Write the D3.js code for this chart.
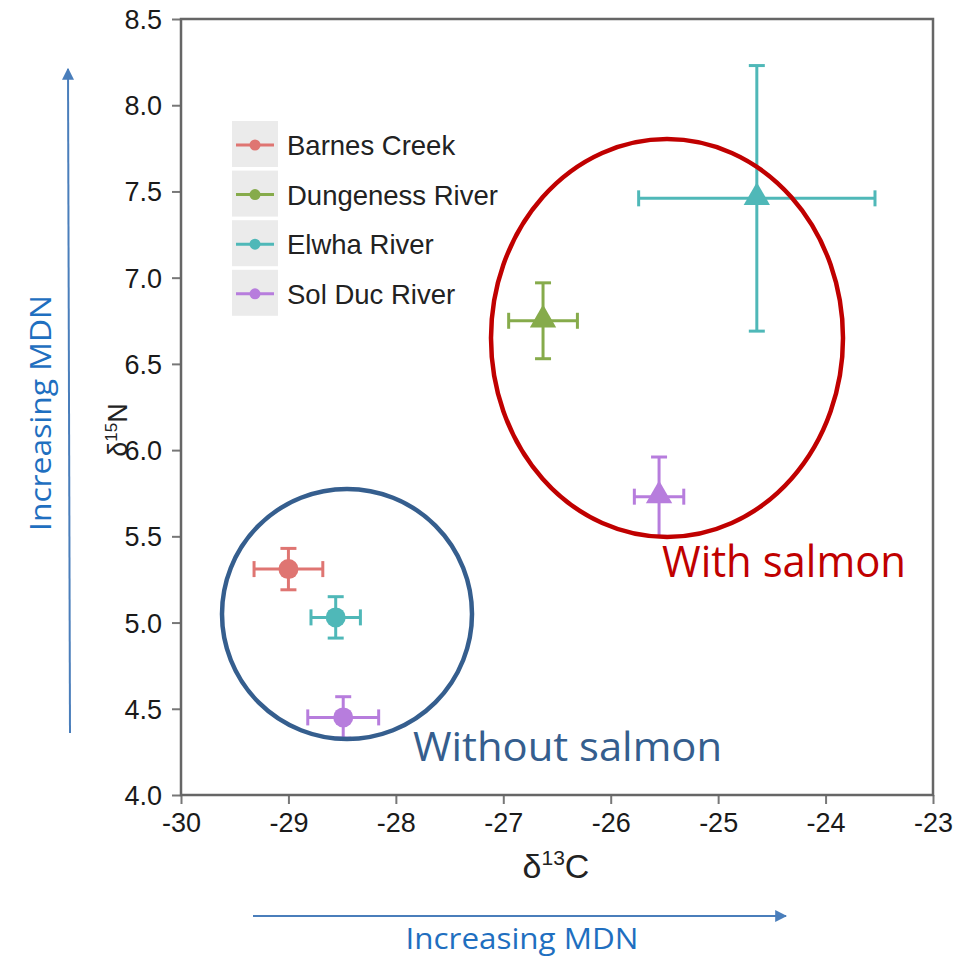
<!DOCTYPE html>
<html>
<head>
<meta charset="utf-8">
<script src="https://cdn.jsdelivr.net/npm/d3@7"></script>
<style>
  body { margin: 0; background: #fff; }
  svg text { font-family: "Liberation Sans", Arial, sans-serif; }
  svg text.note { font-family: "Open Sans", "Noto Sans", sans-serif; }
</style>
</head>
<body>
<div id="chart"></div>
<script>
// data
const sites = ['Barnes Creek', 'Dungeness River', 'Elwha River', 'Sol Duc River'];
const siteColors = ['#df7572', '#86ab4b', '#4fb8b8', '#b77ddd'];

// without salmon (circles)
const withoutSite = ['Barnes Creek', 'Elwha River', 'Sol Duc River'];
const withoutC = [-29.0, -28.56, -28.49];
const withoutCErr = [0.32, 0.23, 0.33];
const withoutN = [5.31, 5.03, 4.45];
const withoutNErr = [0.12, 0.12, 0.12];

// with salmon (triangles)
const withSite = ['Dungeness River', 'Elwha River', 'Sol Duc River'];
const withC = [-26.63, -24.64, -25.55];
const withCErr = [0.32, 1.1, 0.23];
const withN = [6.75, 7.46, 5.73];
const withNErr = [0.22, 0.77, 0.23];

const xTicks = [-30, -29, -28, -27, -26, -25, -24, -23];
const yTicks = [4.0, 4.5, 5.0, 5.5, 6.0, 6.5, 7.0, 7.5, 8.0, 8.5];

const width = 968;
const height = 958;

const svg = d3.select('#chart').append('svg')
  .attr('width', width)
  .attr('height', height);

const x = d3.scaleLinear().domain([-30, -23]).range([181, 933]);
const y = d3.scaleLinear().domain([4, 8.5]).range([795, 19]);
const color = d3.scaleOrdinal().domain(sites).range(siteColors);

// axes (hyphen minus like the original)
const xAxis = svg.append('g')
  .attr('transform', `translate(0,${y(4)})`)
  .call(d3.axisBottom(x).tickValues(xTicks).tickSize(9).tickPadding(5).tickFormat(d => `${d}`));
const yAxis = svg.append('g')
  .attr('transform', `translate(${x(-30)},0)`)
  .call(d3.axisLeft(y).tickValues(yTicks).tickSize(9).tickPadding(10).tickFormat(d => d.toFixed(1)));

[xAxis, yAxis].forEach((a) => {
  a.select('.domain').remove();
  a.selectAll('line').attr('stroke', '#777').attr('stroke-width', 2);
  a.selectAll('text').attr('font-size', 27).attr('fill', '#1a1a1a');
});
xAxis.selectAll('text').attr('dy', '0.85em');
yAxis.selectAll('text').attr('dy', '0.35em');

// frame
svg.append('rect')
  .attr('x', x(-30)).attr('y', y(8.5))
  .attr('width', x(-23) - x(-30)).attr('height', y(4) - y(8.5))
  .attr('fill', 'none').attr('stroke', '#666').attr('stroke-width', 2.5);

// axis titles
const xt = svg.append('text')
  .attr('x', 556).attr('y', 878)
  .attr('text-anchor', 'middle')
  .attr('font-size', 34).attr('fill', '#222');
xt.append('tspan').text('δ');
xt.append('tspan').attr('font-size', 21).attr('dy', -13).text('13');
xt.append('tspan').attr('dy', 13).text('C');

const yt = svg.append('text')
  .attr('transform', 'translate(127,430) rotate(-90)')
  .attr('text-anchor', 'middle')
  .attr('font-size', 27).attr('fill', '#222');
yt.append('tspan').text('δ');
yt.append('tspan').attr('font-size', 17).attr('dy', -10).text('15');
yt.append('tspan').attr('dy', 10).text('N');

// legend
const legend = svg.append('g').attr('transform', 'translate(232,121)');
sites.forEach((s, i) => {
  const row = legend.append('g').attr('transform', `translate(0,${i * 49.6})`);
  row.append('rect').attr('width', 46).attr('height', 46).attr('fill', '#ebebeb');
  row.append('line').attr('x1', 4).attr('x2', 42).attr('y1', 24).attr('y2', 24)
    .attr('stroke', color(s)).attr('stroke-width', 3);
  row.append('circle').attr('cx', 23).attr('cy', 24).attr('r', 5.5).attr('fill', color(s));
  row.append('text').attr('x', 55).attr('y', 34).attr('font-size', 27.5).attr('fill', '#222').text(s);
});

// error bars + markers
function drawGroup(siteList, cVals, cErr, nVals, nErr, shape) {
  siteList.forEach((s, i) => {
    const g = svg.append('g').attr('stroke', color(s)).attr('fill', color(s)).attr('stroke-width', 3);
    const cx = x(cVals[i]);
    const cy = y(nVals[i]);
    const x0 = x(cVals[i] - cErr[i]);
    const x1 = x(cVals[i] + cErr[i]);
    const y0 = y(nVals[i] - nErr[i]);
    const y1 = y(nVals[i] + nErr[i]);
    const cap = 8;
    g.append('line').attr('x1', x0).attr('x2', x1).attr('y1', cy).attr('y2', cy);
    g.append('line').attr('x1', x0).attr('x2', x0).attr('y1', cy - cap).attr('y2', cy + cap);
    g.append('line').attr('x1', x1).attr('x2', x1).attr('y1', cy - cap).attr('y2', cy + cap);
    g.append('line').attr('x1', cx).attr('x2', cx).attr('y1', y0).attr('y2', y1);
    g.append('line').attr('x1', cx - cap).attr('x2', cx + cap).attr('y1', y0).attr('y2', y0);
    g.append('line').attr('x1', cx - cap).attr('x2', cx + cap).attr('y1', y1).attr('y2', y1);
    if (shape === 'circle') {
      g.append('circle').attr('cx', cx).attr('cy', cy).attr('r', 10).attr('stroke', 'none');
    } else {
      g.append('path')
        .attr('d', d3.symbol().type(d3.symbolTriangle).size(300))
        .attr('transform', `translate(${cx},${cy - 1})`)
        .attr('stroke', 'none');
    }
  });
}
drawGroup(withoutSite, withoutC, withoutCErr, withoutN, withoutNErr, 'circle');
drawGroup(withSite, withC, withCErr, withN, withNErr, 'triangle');

// annotations
svg.append('ellipse')
  .attr('cx', 667).attr('cy', 338).attr('rx', 176).attr('ry', 199)
  .attr('fill', 'none').attr('stroke', '#c00000').attr('stroke-width', 4.5);
svg.append('circle')
  .attr('cx', 347).attr('cy', 614).attr('r', 125)
  .attr('fill', 'none').attr('stroke', '#355e8e').attr('stroke-width', 4.5);

svg.append('text')
  .attr('class', 'note')
  .attr('x', 662).attr('y', 577)
  .attr('font-size', 44)
  .attr('fill', '#c00000')
  .attr('textLength', 244).attr('lengthAdjust', 'spacingAndGlyphs')
  .text('With salmon');
svg.append('text')
  .attr('class', 'note')
  .attr('x', 413).attr('y', 761)
  .attr('font-size', 41)
  .attr('fill', '#355e8e')
  .attr('textLength', 309).attr('lengthAdjust', 'spacingAndGlyphs')
  .text('Without salmon');

// MDN arrows
svg.append('defs').append('marker')
  .attr('id', 'arrow')
  .attr('viewBox', '0 0 10 10')
  .attr('refX', 9).attr('refY', 5)
  .attr('markerWidth', 6).attr('markerHeight', 6)
  .attr('markerUnits', 'strokeWidth')
  .attr('orient', 'auto')
  .append('path').attr('d', 'M0,0L10,5L0,10Z').attr('fill', '#4a7ebb');

svg.append('line')
  .attr('x1', 253).attr('x2', 786).attr('y1', 916).attr('y2', 916)
  .attr('stroke', '#4a7ebb').attr('stroke-width', 2).attr('marker-end', 'url(#arrow)');
svg.append('line')
  .attr('x1', 70).attr('x2', 68).attr('y1', 733).attr('y2', 69)
  .attr('stroke', '#4a7ebb').attr('stroke-width', 2).attr('marker-end', 'url(#arrow)');

svg.append('text')
  .attr('class', 'note')
  .attr('x', 522).attr('y', 949)
  .attr('text-anchor', 'middle')
  .attr('font-size', 30)
  .attr('fill', '#1f6fc0')
  .attr('textLength', 233).attr('lengthAdjust', 'spacingAndGlyphs')
  .text('Increasing MDN');
svg.append('text')
  .attr('class', 'note')
  .attr('transform', 'translate(51,413) rotate(-90)')
  .attr('text-anchor', 'middle')
  .attr('font-size', 30)
  .attr('fill', '#1f6fc0')
  .attr('textLength', 236).attr('lengthAdjust', 'spacingAndGlyphs')
  .text('Increasing MDN');
</script>
</body>
</html>
